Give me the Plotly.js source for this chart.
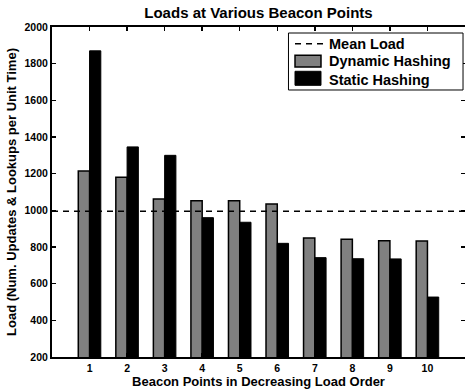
<!DOCTYPE html>
<html><head><meta charset="utf-8">
<script src="https://cdn.plot.ly/plotly-3.0.1.min.js"></script>
<style>html,body{margin:0;padding:0;background:#fff}#chart{width:465px;height:391px}</style>
</head><body><div id="chart"></div>
<script>
const categories = [1,2,3,4,5,6,7,8,9,10];
const dynamicHashing = [1215,1180,1062,1052,1052,1035,849,842,834,833];
const staticHashing = [1870,1346,1300,960,935,820,742,736,735,527];
const meanLoad = 995;
const yTicks = [200,400,600,800,1000,1200,1400,1600,1800,2000];
const seriesNames = ['Mean Load','Dynamic Hashing','Static Hashing'];

const FONT = 'Liberation Sans, Arial, Helvetica, sans-serif';
const GRAY = '#808080';
const DASH = '6px,5px';

const traces = [
  {type:'scatter', mode:'lines', name:seriesNames[0], x:[0,11], y:[meanLoad,meanLoad],
   line:{color:'#000', width:1.5, dash:DASH}, hoverinfo:'skip'},
  {type:'bar', name:seriesNames[1], x:categories, y:dynamicHashing,
   marker:{color:GRAY, line:{color:'#000', width:1.5}}},
  {type:'bar', name:seriesNames[2], x:categories, y:staticHashing,
   marker:{color:'#000', line:{color:'#000', width:1}}}
];

// legend box drawn in paper coordinates (matching the reference's wide swatches)
const lg = {x0:0.5726, x1:0.9952, y0:0.8091, y1:0.9818,
            sx0:0.5884, sx1:0.6513, tx:0.6665,
            rows:[0.9494, 0.8961, 0.8403]};
const shapes = [
  {type:'rect', xref:'paper', yref:'paper', x0:lg.x0, x1:lg.x1, y0:lg.y0, y1:lg.y1,
   fillcolor:'#fff', line:{color:'#000', width:1}},
  {type:'line', xref:'paper', yref:'paper', x0:lg.sx0, x1:lg.sx1+0.006, y0:lg.rows[0], y1:lg.rows[0],
   line:{color:'#000', width:1.5, dash:DASH}},
  {type:'rect', xref:'paper', yref:'paper', x0:lg.sx0, x1:lg.sx1, y0:0.8788, y1:0.9142,
   fillcolor:GRAY, line:{color:'#000', width:1.5}},
  {type:'rect', xref:'paper', yref:'paper', x0:lg.sx0, x1:lg.sx1, y0:0.8233, y1:0.8658,
   fillcolor:'#000', line:{color:'#000', width:1}}
];
const annotations = seriesNames.map((n,i)=>({
  text:n, xref:'paper', yref:'paper', x:lg.tx, y:lg.rows[i], xanchor:'left', yanchor:'middle',
  showarrow:false, font:{family:FONT, size:14.5, weight:'bold', color:'#000'}
}));

const layout = {
  width:465, height:391,
  margin:{l:52, r:0, t:27, b:34},
  paper_bgcolor:'#fff', plot_bgcolor:'#fff',
  barmode:'group', bargap:0.4, bargroupgap:0,
  showlegend:false,
  font:{family:FONT, color:'#000', size:10, weight:'bold'},
  title:{text:'Loads at Various Beacon Points', x:0.5, xref:'paper', y:0.967, yref:'container', yanchor:'middle',
         font:{family:FONT, size:15, weight:'bold', color:'#000'}},
  xaxis:{range:[0,11], tickvals:categories, ticktext:categories.map(String),
         ticks:'inside', ticklen:4, tickwidth:1.5, tickcolor:'#000', mirror:'ticks',
         showline:true, linecolor:'#000', linewidth:2, showgrid:false, zeroline:false,
         tickfont:{family:FONT, size:10.5, weight:'bold'},
         title:{text:'Beacon Points in Decreasing Load Order', standoff:1,
                font:{family:FONT, size:13, weight:'bold'}}, automargin:false},
  yaxis:{range:[200,2000], tickvals:yTicks, ticks:'inside', ticklen:4, tickwidth:1.5, tickcolor:'#000', mirror:'ticks',
         showline:true, linecolor:'#000', linewidth:2, showgrid:false, zeroline:false,
         tickfont:{family:FONT, size:10.5, weight:'bold'},
         title:{text:'Load (Num. Updates & Lookups per Unit Time)', standoff:5,
                font:{family:FONT, size:13, weight:'bold'}}, automargin:false},
  shapes, annotations
};

Plotly.newPlot('chart', traces, layout, {displayModeBar:false, staticPlot:true});
</script></body></html>
